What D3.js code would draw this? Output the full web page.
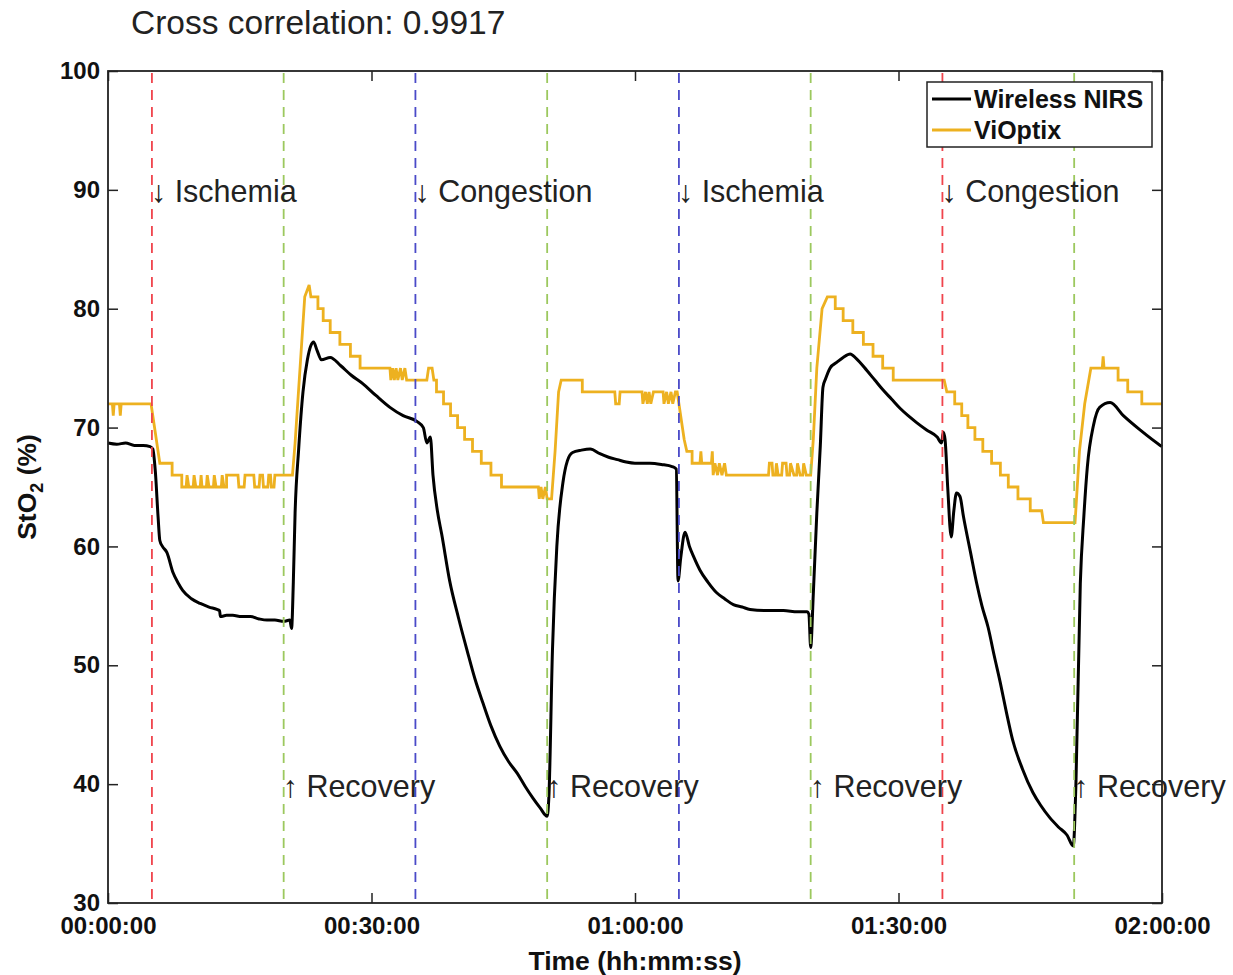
<!DOCTYPE html>
<html>
<head>
<meta charset="utf-8">
<script src="https://cdn.jsdelivr.net/npm/d3@7"></script>
<style>
  html, body { margin: 0; padding: 0; background: #fff; }
  svg { display: block; font-family: "Liberation Sans", Arial, Helvetica, sans-serif; }
</style>
</head>
<body>
<svg id="chart" width="1233" height="975"></svg>
<script>
// ---------------- data: [time in minutes, StO2 in %] ----------------
const nirsPoints = [
  [0,68.7],[1,68.6],[2,68.7],[3,68.5],[4,68.5],[4.8,68.4],[5.1,68.2],[5.4,66.2],[5.7,62.5],[5.9,60.5],
  [6.2,60.0],[6.7,59.5],[7.4,57.8],[8.0,56.9],[8.5,56.3],[9.5,55.6],[10.5,55.2],[11.5,54.9],[12.4,54.7],
  [12.7,54.6],[12.8,54.1],[13.5,54.2],[14.2,54.2],[15.2,54.1],[16.2,54.1],[17.2,53.9],[18.1,53.8],
  [19.0,53.8],[20.0,53.7],[20.7,53.8],[20.9,53.1],[21.1,57.0],[21.3,62.8],[21.7,68.1],[22.2,73.0],
  [22.7,75.7],[23.1,76.9],[23.4,77.2],[23.8,76.5],[24.3,75.7],[25.3,75.9],[26.5,75.2],[27.7,74.4],
  [29.0,73.7],[30.5,72.7],[32.1,71.7],[33.6,71.0],[35.2,70.5],[35.9,70.0],[36.3,68.7],[36.7,69.2],
  [37.0,66.0],[37.5,63.0],[38.0,61.0],[38.9,57.1],[39.9,54.0],[40.9,51.2],[41.8,48.8],[42.7,46.8],
  [43.6,44.9],[44.6,43.2],[45.6,41.9],[46.6,40.9],[47.5,39.8],[48.4,38.8],[49.2,38.0],[50.0,37.3],
  [50.2,39.0],[50.6,51.2],[51.1,60.0],[51.8,65.4],[52.3,67.2],[52.9,67.9],[53.9,68.1],[54.9,68.2],
  [56.0,67.8],[57.0,67.5],[58.0,67.3],[59.0,67.1],[60.0,67.0],[61.7,67.0],[63.0,66.9],[64.3,66.7],
  [64.7,66.5],[64.9,57.1],[65.2,59.0],[65.7,61.2],[66.2,60.0],[66.7,59.1],[67.4,58.0],[68.3,57.0],
  [69.3,56.1],[70.2,55.6],[71.2,55.1],[72.2,54.9],[73.1,54.7],[75.0,54.6],[76.9,54.6],[78.5,54.5],
  [79.6,54.5],[79.8,54.3],[80.0,51.5],[80.3,56.0],[80.7,62.8],[81.1,68.5],[81.4,73.4],[81.7,74.1],
  [82.2,75.0],[83.0,75.5],[83.7,75.9],[84.5,76.2],[85.2,75.8],[86.4,74.8],[87.3,74.0],[88.2,73.2],
  [89.2,72.4],[90.2,71.6],[91.1,71.0],[92.1,70.4],[93.2,69.8],[94.4,69.2],[94.9,68.7],[95.1,69.6],
  [95.3,69.0],[95.6,65.0],[96.0,60.8],[96.3,63.0],[96.6,64.5],[97.0,64.2],[97.4,62.5],[98.2,59.5],
  [98.9,56.9],[99.5,55.0],[100.2,53.2],[100.9,50.8],[101.6,48.5],[102.3,46.0],[103.0,43.7],[104.1,41.3],
  [105.3,39.3],[106.2,38.2],[107.2,37.2],[108.2,36.4],[109.2,35.7],[109.9,34.8],[110.2,40.0],[110.7,56.9],
  [111.1,62.5],[111.5,66.7],[112.2,70.2],[112.9,71.7],[114.1,72.1],[115.6,71.0],[117.5,69.8],[119.8,68.5],
  [120,68.4]
];

const vioPoints = [
  [0,72],[0.5,72],[0.6,71],[0.7,72],[1.3,72],[1.4,71],[1.5,72],[4.9,72],[5.3,70],[5.9,67],[7.3,67],[7.3,66],
  [8.4,66],[8.4,65],[8.9,65],[9.0,66],[9.2,65],[9.7,65],[9.8,66],[10.0,65],[10.5,65],[10.6,66],[10.7,65],
  [11.2,65],[11.3,66],[11.5,65],[12.0,65],[12.1,66],[12.3,65],[12.9,65],[13.0,66],[13.2,65],[13.5,65],
  [13.5,66],[14.8,66],[14.9,65],[15.5,65],[15.6,66],[16.6,66],[16.7,65],[17.2,65],[17.3,66],[17.6,66],
  [17.7,65],[18.2,65],[18.3,66],[18.5,66],[18.6,65],[18.9,65],[19.0,66],[21.0,66],
  [21.3,68.7],[22.4,81],[22.9,82],[23.1,81],[23.9,81],[23.9,80],[24.5,80],[24.5,79],[25.3,79],[25.3,78],
  [26.4,78],[26.4,77],[27.6,77],[27.6,76],[28.7,76],[28.7,75],[32.1,75],[32.2,74],[32.4,75],[32.6,74],
  [32.8,75],[33.0,74],[33.3,75],[33.5,74],[33.8,75],[34.0,74],[36.3,74],[36.5,75],[36.9,75],[37.1,74],
  [37.4,74],[37.4,73],[38.2,73],[38.2,72],[39.0,72],[39.0,71],[39.8,71],[39.8,70],[40.6,70],[40.6,69],
  [41.5,69],[41.5,68],[42.5,68],[42.5,67],[43.6,67],[43.6,66],[44.8,66],[44.8,65],[49.0,65],[49.1,64],
  [49.3,65],[49.5,64],[49.8,65],[50.0,64],[50.5,64],
  [50.9,68],[51.3,73],[51.6,74],[54.0,74],[54.0,73],[57.7,73],[57.8,72],[58.2,72],[58.3,73],[60.8,73],
  [60.9,72],[61.2,73],[61.4,72],[61.6,73],[61.8,72],[62.1,73],[63.2,73],[63.3,72],[63.6,73],[63.8,72],
  [64.1,73],[64.3,72],[64.6,73],[64.8,73],
  [65.2,71],[65.6,69],[65.9,68],[66.5,68],[66.5,67],[67.4,67],[67.5,68],[67.6,67],[68.7,67],[68.8,68],
  [68.9,66],[69.1,67],[69.4,66],[69.6,67],[69.9,66],[70.2,67],[70.4,66],[75.2,66],[75.3,67],[75.6,67],
  [75.7,66],[76.0,66],[76.1,67],[76.3,66],[76.7,66],[76.8,67],[77.2,67],[77.3,66],[77.6,66],[77.7,67],
  [78.1,66],[78.4,66],[78.5,67],[78.8,66],[79.1,66],[79.2,67],[79.5,66],[80.0,66],
  [80.3,69],[80.7,75],[81.3,80],[81.9,81],[82.8,81],[82.8,80],[83.7,80],[83.7,79],[84.8,79],[84.8,78],
  [86.0,78],[86.0,77],[87.1,77],[87.1,76],[88.2,76],[88.2,75],[89.4,75],[89.4,74],[95.2,74],[95.5,73],
  [96.4,73],[96.4,72],[97.2,72],[97.2,71],[97.9,71],[97.9,70],[98.7,70],[98.7,69],[99.6,69],[99.6,68],
  [100.6,68],[100.6,67],[101.6,67],[101.6,66],[102.5,66],[102.5,65],[103.6,65],[103.6,64],[105.0,64],
  [105.0,63],[106.3,63],[106.5,62],[110.1,62],
  [110.6,68],[111.2,72],[111.9,75],[113.2,75],[113.3,76],[113.4,75],[115.0,75],[115.0,74],[116.1,74],
  [116.1,73],[117.7,73],[117.7,72],[120,72]
];

const eventTimes  = [5, 20, 35, 50, 65, 80, 95, 110];
const eventColors = ["#f0444c", "#9cc85e", "#4a4ac8", "#9cc85e", "#4a4ac8", "#9cc85e", "#f0444c", "#9cc85e"];
const eventLabels = ["↓ Ischemia", "↑ Recovery", "↓ Congestion", "↑ Recovery", "↓ Ischemia", "↑ Recovery", "↓ Congestion", "↑ Recovery"];

const xTicks = [0, 30, 60, 90, 120];
const yTicks = [30, 40, 50, 60, 70, 80, 90, 100];
const seriesNames = ["Wireless NIRS", "ViOptix"];
const seriesColors = ["#000000", "#edb120"];
const titleText = "Cross correlation: 0.9917";

// ---------------- chart ----------------
const svg = d3.select("#chart");
const L = 108, R = 1162, T = 71, B = 903;
const x = d3.scaleLinear().domain([0, 120]).range([L, R]);
const y = d3.scaleLinear().domain([30, 100]).range([B, T]);

const fmt = m => {
  const h = Math.floor(m / 60), mm = Math.round(m % 60);
  return String(h).padStart(2, "0") + ":" + String(mm).padStart(2, "0") + ":00";
};

// title
svg.append("text").attr("x", 131).attr("y", 34)
  .attr("font-size", 33.5).attr("fill", "#222").text(titleText);

// series
const lineN = d3.line().x(d => x(d[0])).y(d => y(d[1])).curve(d3.curveMonotoneX);
const lineV = d3.line().x(d => x(d[0])).y(d => y(d[1]));

svg.append("path").datum(nirsPoints).attr("d", lineN)
  .attr("fill", "none").attr("stroke", seriesColors[0]).attr("stroke-width", 3)
  .attr("stroke-linejoin", "round");
svg.append("path").datum(vioPoints).attr("d", lineV)
  .attr("fill", "none").attr("stroke", seriesColors[1]).attr("stroke-width", 2.8)
  .attr("stroke-linejoin", "miter");

// event lines
svg.append("g").selectAll("line").data(eventTimes).join("line")
  .attr("x1", d => x(d)).attr("x2", d => x(d))
  .attr("y1", T + 2).attr("y2", B)
  .attr("stroke", (d, i) => eventColors[i]).attr("stroke-width", 1.8)
  .attr("stroke-dasharray", "10,7");

// event labels
svg.append("g").selectAll("text").data(eventTimes).join("text")
  .attr("x", d => x(d) - 1)
  .attr("y", (d, i) => eventLabels[i].startsWith("↓") ? 202 : 797)
  .attr("font-size", 30.5).attr("fill", "#222")
  .text((d, i) => eventLabels[i]);

// axes
const axB = svg.append("g").attr("transform", `translate(0,${B})`)
  .call(d3.axisBottom(x).tickValues(xTicks).tickSize(-10).tickPadding(14).tickFormat(fmt));
const axT = svg.append("g").attr("transform", `translate(0,${T})`)
  .call(d3.axisTop(x).tickValues(xTicks).tickSize(-10).tickFormat(""));
const axL = svg.append("g").attr("transform", `translate(${L},0)`)
  .call(d3.axisLeft(y).tickValues(yTicks).tickSize(-10).tickPadding(8));
const axRt = svg.append("g").attr("transform", `translate(${R},0)`)
  .call(d3.axisRight(y).tickValues(yTicks).tickSize(-10).tickFormat(""));
[axB, axT, axL, axRt].forEach(g => {
  g.select(".domain").remove();
  g.selectAll(".tick line").attr("stroke", "#222").attr("stroke-width", 1.5);
  g.selectAll("text").attr("font-size", 24).attr("font-weight", "bold")
    .attr("fill", "#111").attr("font-family", "'Liberation Sans', Arial, sans-serif");
});

// frame
svg.append("rect").attr("x", L).attr("y", T).attr("width", R - L).attr("height", B - T)
  .attr("fill", "none").attr("stroke", "#222").attr("stroke-width", 1.8);

// axis labels
svg.append("text").attr("x", (L + R) / 2).attr("y", 970)
  .attr("text-anchor", "middle").attr("font-size", 26.5).attr("font-weight", "bold")
  .attr("fill", "#111").text("Time (hh:mm:ss)");
const yl = svg.append("text")
  .attr("transform", `translate(36,${(T + B) / 2}) rotate(-90)`)
  .attr("text-anchor", "middle").attr("font-size", 26.5).attr("font-weight", "bold").attr("fill", "#111");
yl.append("tspan").text("StO");
yl.append("tspan").attr("font-size", 18).attr("dy", 7).text("2");
yl.append("tspan").attr("dy", -7).text(" (%)");

// legend
const lg = svg.append("g");
lg.append("rect").attr("x", 927).attr("y", 82).attr("width", 225).attr("height", 65)
  .attr("fill", "#fff").attr("stroke", "#222").attr("stroke-width", 1.5);
seriesNames.forEach((n, i) => {
  const yy = 99 + i * 31;
  lg.append("line").attr("x1", 932).attr("x2", 971).attr("y1", yy).attr("y2", yy)
    .attr("stroke", seriesColors[i]).attr("stroke-width", 3);
  lg.append("text").attr("x", 974).attr("y", yy + 8.5)
    .attr("font-size", 25).attr("font-weight", "bold").attr("fill", "#111").text(n);
});
</script>
</body>
</html>
